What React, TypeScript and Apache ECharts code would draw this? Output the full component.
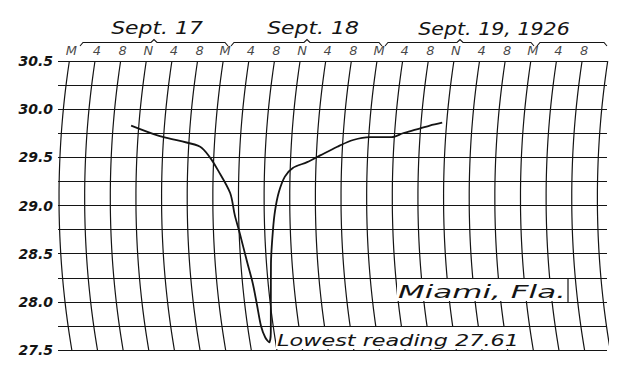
import React, { useEffect, useRef } from 'react';
import * as echarts from 'echarts';

// Barograph sheet: time in hours from midnight (M) of Sept. 17, 1926
const gridHours = [0, 4, 8, 12, 16, 20, 24, 28, 32, 36, 40, 44, 48, 52, 56, 60, 64, 68, 72, 76, 80, 84];
const timeLabels = ['M', '4', '8', 'N', '4', '8', 'M', '4', '8', 'N', '4', '8', 'M', '4', '8', 'N', '4', '8', 'M', '4', '8'];
const dayLabels = ['Sept. 17', 'Sept. 18', 'Sept. 19, 1926'];
const stationLabel = 'Miami, Fla.';
const lowestLabel = 'Lowest reading 27.61';

// pressure (inches) trace read from the sheet
const traceHours = [10.8, 15.4, 18.6, 21.8, 23.4, 24.7, 26.7, 27.4, 28.1, 29.0, 29.6, 29.9, 30.1, 30.5, 31.0, 31.5, 32.1, 32.7, 33.3, 33.7, 34.3, 35.2, 36.4, 38.6, 40.6, 43.2, 45.6, 48.2, 51.6, 53.3, 55.4, 57.4, 59.3];
const tracePressure = [29.83, 29.72, 29.67, 29.61, 29.5, 29.37, 29.13, 28.9, 28.71, 28.41, 28.19, 27.97, 27.75, 27.63, 27.58, 27.69, 27.99, 28.4, 28.75, 28.95, 29.14, 29.3, 29.39, 29.45, 29.52, 29.61, 29.68, 29.71, 29.71, 29.75, 29.79, 29.83, 29.86];

// curvature of the pen arc of the barograph (hours shift vs pressure)
const ARC = 0.8;
const ARC_CENTER = 29.08;
const arcShift = (p: number) => ARC * (p - ARC_CENTER) * (p - ARC_CENTER);

const P_MIN = 27.5;
const P_MAX = 30.5;
const INK = '#141414';
const FONT = 'DejaVu Sans';

export default function App() {
  const ref = useRef<HTMLDivElement>(null);
  useEffect(() => {
    if (!ref.current) return;
    const chart = echarts.init(ref.current, undefined, { renderer: 'svg' });

    const gridSeries = gridHours.map((h) => {
      const pts: number[][] = [];
      for (let p = P_MIN; p <= P_MAX + 1e-9; p += 0.125) pts.push([h + arcShift(p), p]);
      return {
        type: 'line',
        data: pts,
        showSymbol: false,
        smooth: true,
        clip: false,
        silent: true,
        z: 1,
        lineStyle: { color: INK, width: 1.2 },
      };
    });

    const labelData = timeLabels.map((t, i) => ({
      value: [gridHours[i] + arcShift(P_MAX), P_MAX],
      name: t,
    }));

    const textStyle = (size: number) => ({
      fill: INK,
      fontFamily: FONT,
      fontStyle: 'italic',
      fontSize: size,
    });

    const bracket = (x0: number, x1: number, mid: number | null) => {
      const pts: number[][] = [[x0, 46], [x0 + 3, 42.5]];
      if (mid !== null) {
        pts.push([mid - 3, 42.5], [mid, 39.5], [mid + 3, 42.5]);
      }
      pts.push([x1 - 3, 42.5], [x1, 46]);
      return {
        type: 'polyline',
        z: 100,
        shape: { points: pts },
        style: { stroke: INK, lineWidth: 1.1, fill: null },
      };
    };

    chart.setOption({
      animation: false,
      backgroundColor: '#fff',
      grid: { left: 58, right: 33, top: 61, bottom: 26 },
      xAxis: { type: 'value', min: -0.16, max: 85.5, show: false },
      yAxis: {
        type: 'value',
        min: P_MIN,
        max: P_MAX,
        interval: 0.25,
        axisLine: { show: false },
        axisTick: { show: false },
        axisLabel: {
          margin: 5,
          color: INK,
          fontFamily: FONT,
          fontStyle: 'italic',
          fontWeight: 'bold',
          fontSize: 14,
          formatter: (v: number) => (Math.abs(v * 2 - Math.round(v * 2)) < 1e-6 ? v.toFixed(1) : ''),
        },
        splitLine: { show: true, lineStyle: { color: INK, width: 1.2 } },
      },
      series: [
        ...gridSeries,
        {
          type: 'scatter',
          data: labelData,
          symbolSize: 0,
          silent: true,
          clip: false,
          label: {
            show: true,
            position: 'top',
            distance: 4,
            offset: [2, 0],
            formatter: (p: any) => p.name,
            color: INK,
            fontFamily: FONT,
            fontStyle: 'italic',
            fontSize: 13,
          },
        },
        {
          type: 'line',
          data: traceHours.map((h, i) => [h + arcShift(tracePressure[i]), tracePressure[i]]),
          showSymbol: false,
          smooth: 0.3,
          z: 5,
          lineStyle: { color: INK, width: 1.8 },
        },
      ],
      graphic: [
        bracket(80, 228, 154),
        bracket(231, 382, 307),
        bracket(385, 534, 460),
        bracket(537, 607, null),
        { type: 'text', z: 100, x: 157, y: 28.5, scaleX: 1.29, style: { ...textStyle(17), text: dayLabels[0], textAlign: 'center', textVerticalAlign: 'middle' } },
        { type: 'text', z: 100, x: 313, y: 28.5, scaleX: 1.29, style: { ...textStyle(17), text: dayLabels[1], textAlign: 'center', textVerticalAlign: 'middle' } },
        { type: 'text', z: 100, x: 494, y: 28.5, scaleX: 1.21, style: { ...textStyle(17), text: dayLabels[2], textAlign: 'center', textVerticalAlign: 'middle' } },
        { type: 'rect', z: 90, shape: { x: 397, y: 279, width: 170, height: 22 }, style: { fill: '#fff' } },
        { type: 'line', z: 91, shape: { x1: 568, y1: 278, x2: 568, y2: 302 }, style: { stroke: INK, lineWidth: 1.2 } },
        { type: 'text', z: 100, x: 482, y: 292, scaleX: 1.72, style: { ...textStyle(18), text: stationLabel, textAlign: 'center', textVerticalAlign: 'middle' } },
        { type: 'rect', z: 90, shape: { x: 276, y: 327, width: 248, height: 22 }, style: { fill: '#fff' } },
        { type: 'text', z: 100, x: 398, y: 340, scaleX: 1.49, style: { ...textStyle(15), text: lowestLabel, textAlign: 'center', textVerticalAlign: 'middle' } },
      ],
    });
    return () => chart.dispose();
  }, []);
  return <div ref={ref} style={{ position: 'fixed', left: 0, top: 0, width: 640, height: 376 }} />;
}
